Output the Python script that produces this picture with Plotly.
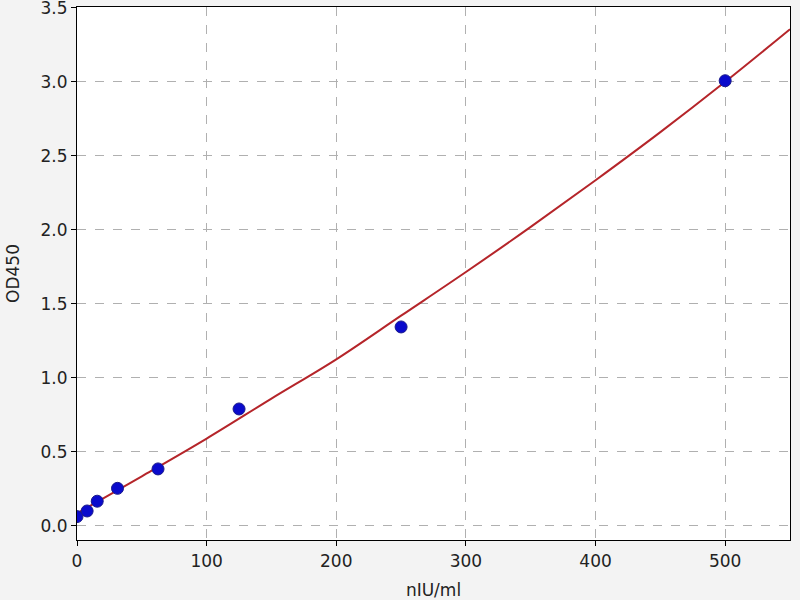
import plotly.graph_objects as go

# standard points (concentration vs OD450)
conc = [0, 7.8, 15.6, 31.25, 62.5, 125, 250, 500]
od = [0.063, 0.101, 0.167, 0.254, 0.385, 0.79, 1.344, 3.007]

# fitted curve
fit_x = [0, 50, 100, 150, 200, 250, 300, 350, 400, 450, 500, 550]
fit_y = [0.085, 0.335, 0.59, 0.86, 1.125, 1.42, 1.715, 2.02, 2.335, 2.66, 3.0, 3.355]

fig = go.Figure()
fig.add_trace(go.Scatter(x=fit_x, y=fit_y, mode='lines', line=dict(color='#b5252a', width=2, shape='spline'),
                         hoverinfo='skip'))
fig.add_trace(go.Scatter(x=conc, y=od, mode='markers',
                         marker=dict(color='#0a0acc', size=12, line=dict(color='#1a1a8c', width=1))))

axis_common = dict(showline=True, linecolor='black', linewidth=1.2, mirror=True,
                   ticks='outside', ticklen=5, tickcolor='black',
                   showgrid=True, gridcolor='#b0b0b0', griddash='dash', gridwidth=1,
                   zeroline=False, tickfont=dict(size=17, color='#222'),
                   ticklabeloverflow='allow', automargin=False)

fig.update_layout(
    width=800, height=600,
    paper_bgcolor='#f3f3f3', plot_bgcolor='white',
    margin=dict(l=77, r=10, t=7, b=60),
    showlegend=False,
    font=dict(family='DejaVu Sans', color='#222'),
    xaxis=dict(title=dict(text='nIU/ml', font=dict(size=17), standoff=18), range=[0, 550],
               tickvals=[0, 100, 200, 300, 400, 500], **axis_common),
    yaxis=dict(title=dict(text='OD450', font=dict(size=17), standoff=16), range=[-0.095, 3.505],
               tickvals=[0, 0.5, 1.0, 1.5, 2.0, 2.5, 3.0, 3.5], tickformat='.1f', **axis_common),
)

fig.write_html("out.html", config={'displayModeBar': False},
               post_script="document.body.style.margin='0';")
